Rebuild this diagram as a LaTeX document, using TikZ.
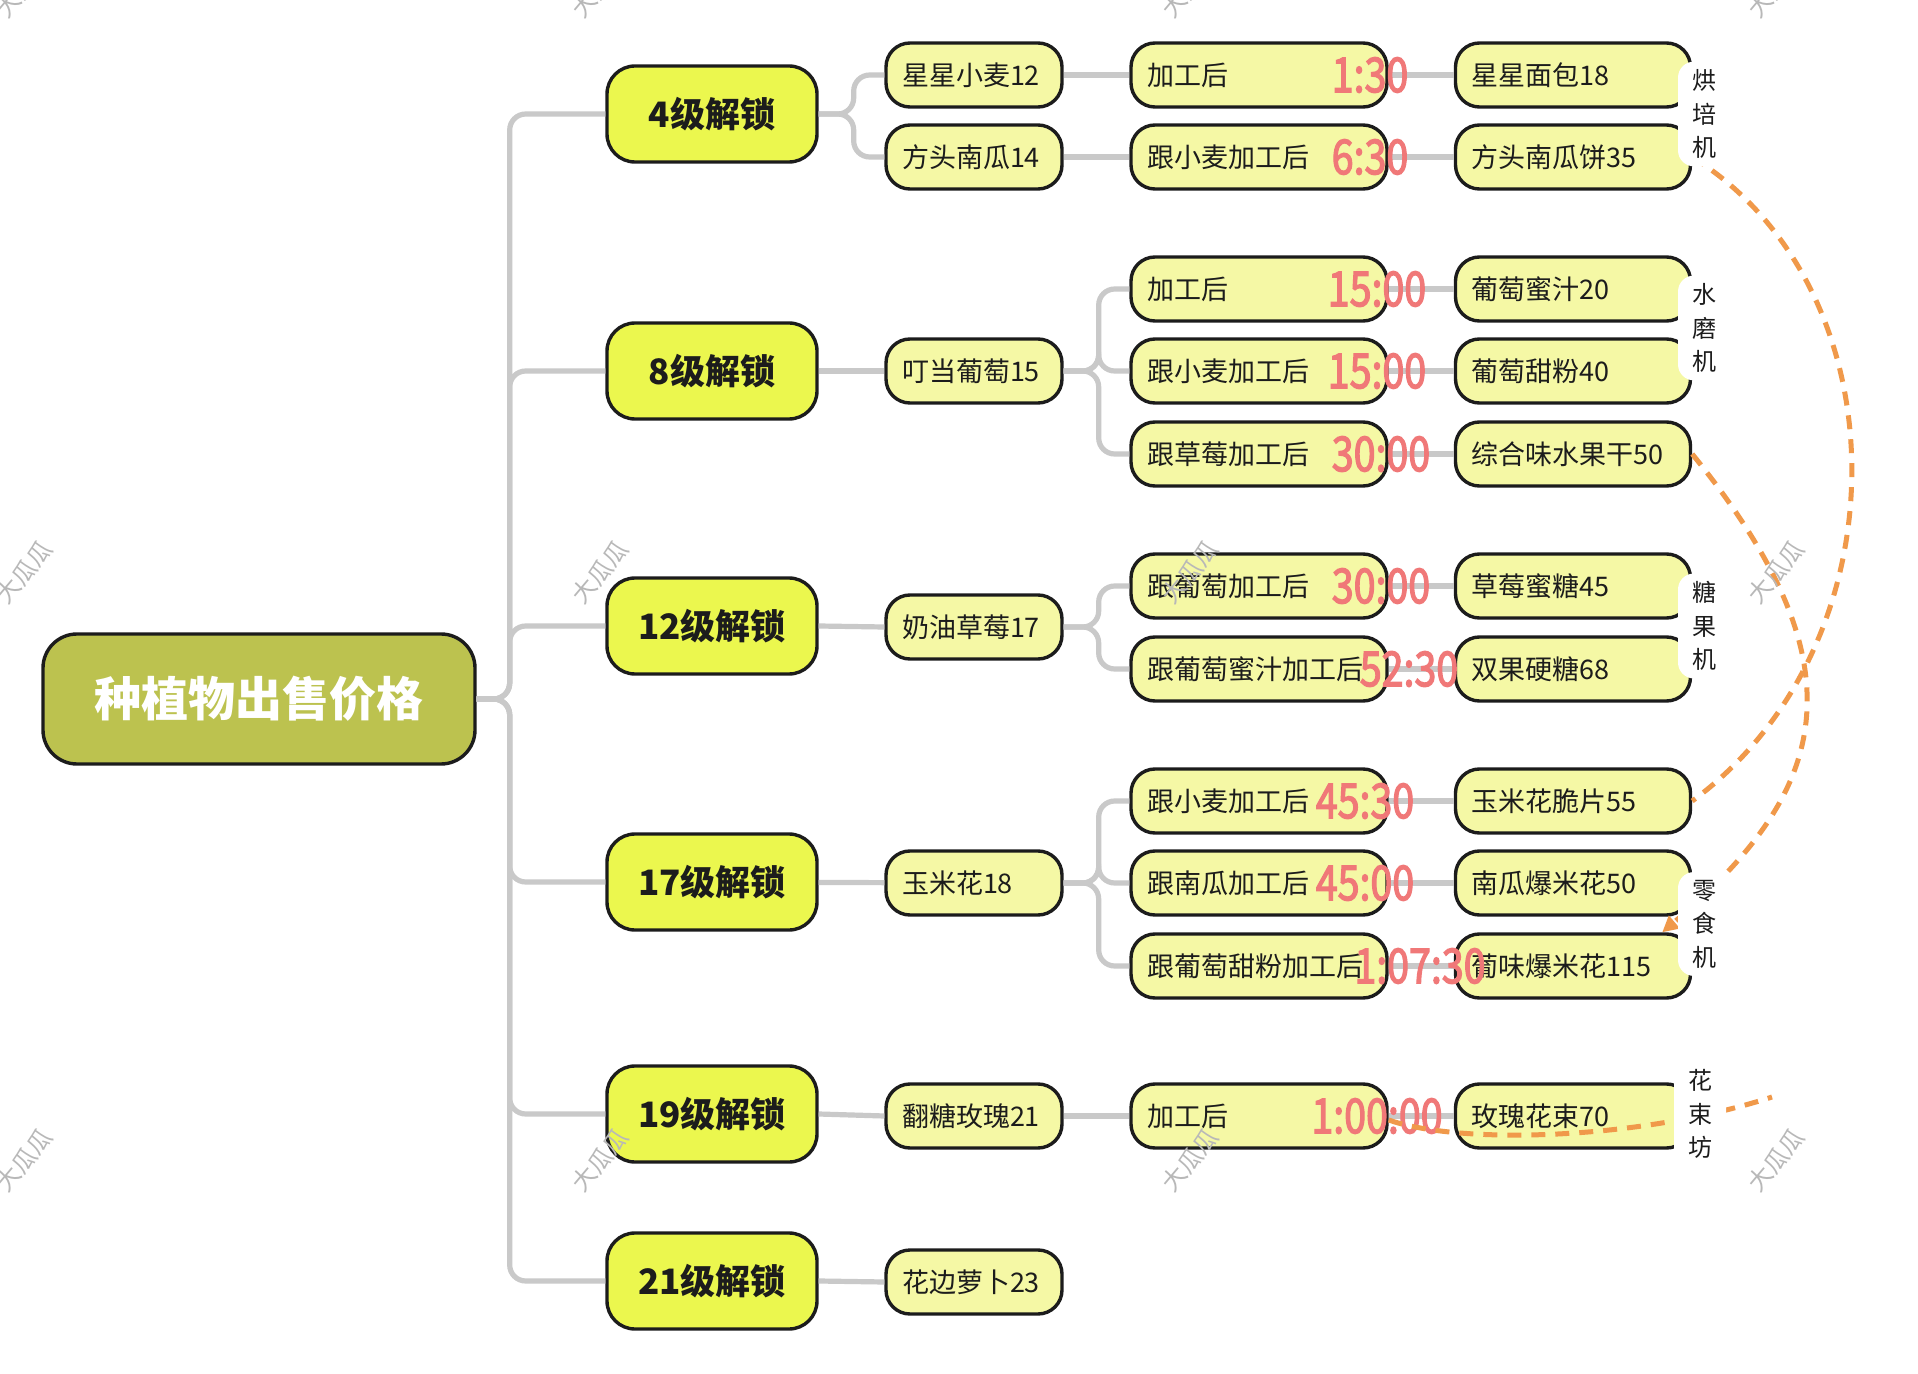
\documentclass[tikz,border=0pt]{standalone}
\usepackage{fontspec}
\usepackage{graphicx}
\setmainfont{Noto Sans CJK SC}
\newfontfamily\timefont{Noto Sans CJK SC}[FakeBold=3]
\usetikzlibrary{arrows.meta,positioning}
\definecolor{olive}{HTML}{BCC24F}
\definecolor{lime}{HTML}{EBF74E}
\definecolor{cream}{HTML}{F5F8A5}
\definecolor{ink}{HTML}{1C1C1C}
\definecolor{linegray}{HTML}{C9C9C9}
\definecolor{timered}{HTML}{F07878}
\definecolor{orange}{HTML}{F0994A}
\definecolor{wmgray}{HTML}{B8B8B8}
\newcommand{\tm}[1]{\scalebox{0.82}[1]{#1}}
\tikzset{
  rootbox/.style={rounded corners=17pt, draw=ink, fill=olive, line width=1.7pt,
    minimum width=216pt, minimum height=65pt, font=\fontsize{23.5}{28}\selectfont\bfseries, text=white},
  lvlbox/.style={rounded corners=14pt, draw=ink, fill=lime, line width=1.7pt,
    minimum width=105pt, minimum height=48pt, font=\fontsize{17.5}{21}\selectfont\bfseries, text=ink},
  itembox/.style={rounded corners=12pt, draw=ink, fill=cream, line width=1.7pt,
    minimum height=32pt, inner xsep=8pt, align=left, font=\fontsize{13.5}{16}\selectfont, text=ink},
  cropbox/.style={itembox, text width=72pt},
  procbox/.style={itembox, text width=112pt},
  prodbox/.style={itembox, text width=101.5pt},
  timelbl/.style={font=\timefont\fontsize{24}{28}\selectfont, text=timered, inner sep=0pt},
  mach/.style={fill=white, rounded corners=8pt, minimum width=26pt, inner ysep=4pt,
    align=center, font=\fontsize{12}{16.7}\selectfont, text=ink},
  conn/.style={draw=linegray, line width=2.6pt, rounded corners=8pt},
  link/.style={draw=orange, line width=2.5pt, dash pattern=on 7pt off 5pt},
  wm/.style={rotate=50, text=wmgray, font=\fontsize{12}{14}\selectfont}
}
\begin{document}
\begin{tikzpicture}[x=0.5pt,y=-0.5pt]
  \fill[white] (0,0) rectangle (1918,1374);
  \useasboundingbox (0,0) rectangle (1918,1374);

  \node[rootbox] (root) at (259,699) {种植物出售价格};

  \node[lvlbox] (l4) at (712,114) {4级解锁};
  \node[lvlbox] (l8) at (712,371) {8级解锁};
  \node[lvlbox] (l12) at (712,626) {12级解锁};
  \node[lvlbox] (l17) at (712,882) {17级解锁};
  \node[lvlbox] (l19) at (712,1114) {19级解锁};
  \node[lvlbox] (l21) at (712,1281) {21级解锁};

  \node[cropbox] (c1) at (974,75) {星星小麦12};
  \node[cropbox] (c2) at (974,157) {方头南瓜14};
  \node[cropbox] (c3) at (974,371) {叮当葡萄15};
  \node[cropbox] (c4) at (974,627) {奶油草莓17};
  \node[cropbox] (c5) at (974,883) {玉米花18};
  \node[cropbox] (c6) at (974,1116) {翻糖玫瑰21};
  \node[cropbox] (c7) at (974,1282) {花边萝卜23};

  \node[procbox] (p1) at (1259,75) {加工后};
  \node[procbox] (p2) at (1259,157) {跟小麦加工后};
  \node[procbox] (p3) at (1259,289) {加工后};
  \node[procbox] (p4) at (1259,371) {跟小麦加工后};
  \node[procbox] (p5) at (1259,454) {跟草莓加工后};
  \node[procbox] (p6) at (1259,586) {跟葡萄加工后};
  \node[procbox] (p7) at (1259,669) {跟葡萄蜜汁加工后};
  \node[procbox] (p8) at (1259,801) {跟小麦加工后};
  \node[procbox] (p9) at (1259,883) {跟南瓜加工后};
  \node[procbox] (p10) at (1259,966) {跟葡萄甜粉加工后};
  \node[procbox] (p11) at (1259,1116) {加工后};

  \node[prodbox] (d1) at (1573,75) {星星面包18};
  \node[prodbox] (d2) at (1573,157) {方头南瓜饼35};
  \node[prodbox] (d3) at (1573,289) {葡萄蜜汁20};
  \node[prodbox] (d4) at (1573,371) {葡萄甜粉40};
  \node[prodbox] (d5) at (1573,454) {综合味水果干50};
  \node[prodbox] (d6) at (1573,586) {草莓蜜糖45};
  \node[prodbox] (d7) at (1573,669) {双果硬糖68};
  \node[prodbox] (d8) at (1573,801) {玉米花脆片55};
  \node[prodbox] (d9) at (1573,883) {南瓜爆米花50};
  \node[prodbox] (d10) at (1573,966) {葡味爆米花115};
  \node[prodbox] (d11) at (1573,1116) {玫瑰花束70};

  \foreach \l in {l4,l8,l12,l17,l19,l21}
    \draw[conn] (root.east) -- ++(33,0) |- (\l.west);
  \draw[conn] (l4.east) -- ++(35,0) |- (c1.west);
  \draw[conn] (l4.east) -- ++(35,0) |- (c2.west);
  \draw[conn] (l8) -- (c3); \draw[conn] (l12.east) -- (c4.west);
  \draw[conn] (l17) -- (c5); \draw[conn] (l19.east) -- (c6.west);
  \draw[conn] (l21.east) -- (c7.west);
  \draw[conn] (c1) -- (p1); \draw[conn] (c2) -- (p2);
  \foreach \p in {p3,p4,p5}
    \draw[conn] (c3.east) -- ++(35,0) |- (\p.west);
  \foreach \p in {p6,p7}
    \draw[conn] (c4.east) -- ++(35,0) |- (\p.west);
  \foreach \p in {p8,p9,p10}
    \draw[conn] (c5.east) -- ++(35,0) |- (\p.west);
  \draw[conn] (c6) -- (p11);
  \foreach \i in {1,...,11}
    \draw[conn] (p\i) -- (d\i);

  \node[timelbl] (t1) at (1370,75) {\tm{1:30}};
  \node[timelbl] (t2) at (1370,157) {\tm{6:30}};
  \node[timelbl] (t3) at (1377,289) {\tm{15:00}};
  \node[timelbl] (t4) at (1377,371) {\tm{15:00}};
  \node[timelbl] (t5) at (1381,454) {\tm{30:00}};
  \node[timelbl] (t6) at (1381,586) {\tm{30:00}};
  \node[timelbl] (t7) at (1409,669) {\tm{52:30}};
  \node[timelbl] (t8) at (1365,801) {\tm{45:30}};
  \node[timelbl] (t9) at (1365,883) {\tm{45:00}};
  \node[timelbl] (t10) at (1420,966) {\tm{1:07:30}};
  \node[timelbl] (t11) at (1377,1116) {\tm{1:00:00}};

  \coordinate (rosend) at (1772,1097);
  \draw[link] (d2.east) .. controls (1905,290) and (1905,645) .. (d8.east);
  \draw[link, -{Triangle[length=8pt,width=8pt]}] (d5.east) .. controls (1865,667) and (1830,790) .. ([xshift=-15pt]d10.north east);
  \draw[link] ([yshift=-2pt]p11.east) .. controls (1460,1145) and (1640,1140) .. (rosend);

  \node[mach] (m1) at (1704,114) {烘\\培\\机};
  \node[mach] (m2) at (1704,328) {水\\磨\\机};
  \node[mach] (m3) at (1704,626) {糖\\果\\机};
  \node[mach] (m4) at (1704,924) {零\\食\\机};
  \node[mach] (m5) at (1700,1114) {花\\束\\坊};

  \foreach \x in {24,600,1190,1776}
    \foreach \y in {-14,572,1160}
      \node[wm] (wm-\x-\y) at (\x,\y) {大瓜瓜};
\end{tikzpicture}
\end{document}
